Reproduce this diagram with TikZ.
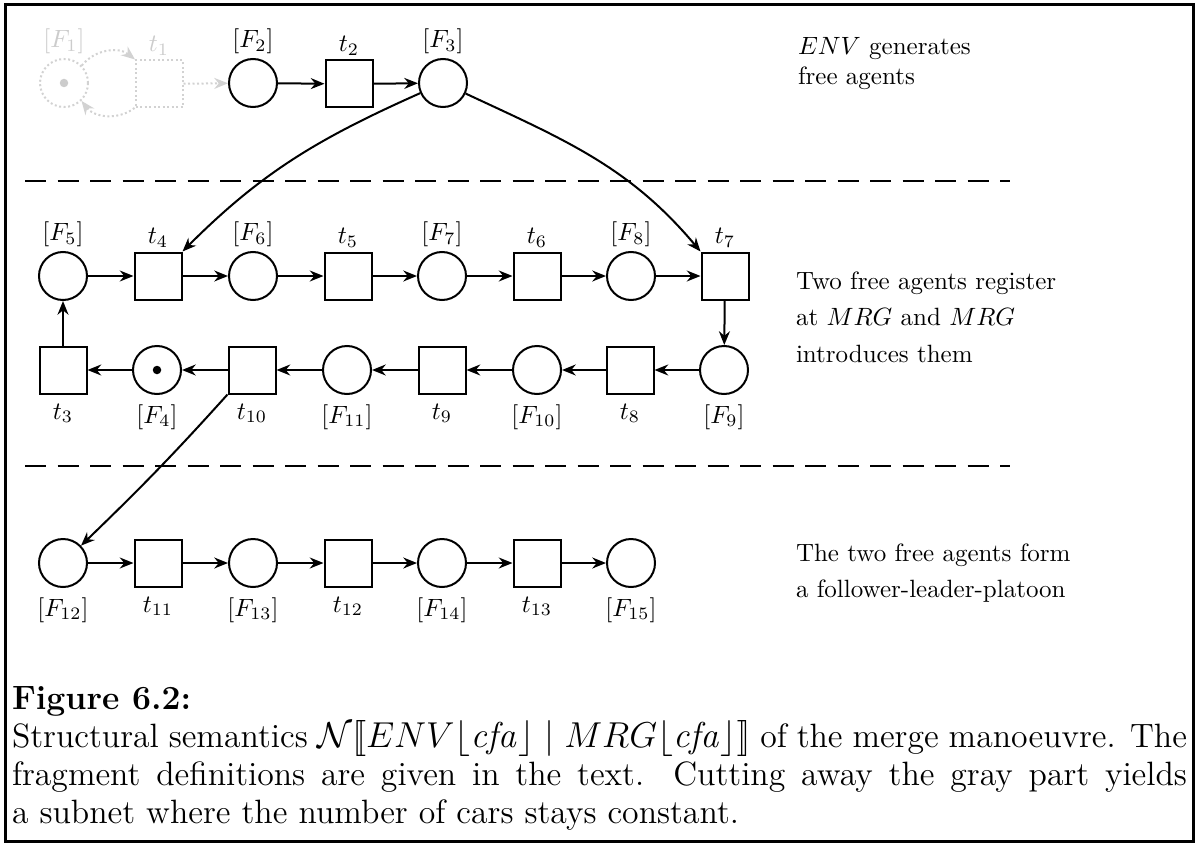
\documentclass[tikz,border=0pt]{standalone}
\usetikzlibrary{arrows.meta}
\begin{document}
\begin{tikzpicture}[x=0.4pt, y=0.4pt, >={Stealth[length=5.5pt, width=4.4pt, inset=1.8pt]}, thick,
    place/.style={circle, draw, minimum size=19.2pt, inner sep=0pt},
    trans/.style={rectangle, draw, minimum size=18.8pt, inner sep=0pt},
    above tag/.style={label={[label distance=-2pt]above:{#1}}},
    below tag/.style={label={below:{#1}}},
    faint/.style={draw=gray!35, densely dotted, text=gray!40},
    token/.style={circle, fill, inner sep=0pt, minimum size=3.4pt},
    sep/.style={dash pattern=on 8.5pt off 4.5pt},
    remark/.style={anchor=west, align=left, inner sep=0pt}]
    \useasboundingbox (0,0) rectangle (1198,-846);
    \draw[line width=1.2pt] (5,-5) rectangle (1193,-841);

    % ==== ENV: free agents ====
    \node[place, faint, label={[gray!40, label distance=-2pt]above:{$[F_1]$}}] (F1) at (64,-83) {};
    \node[token, gray!40] (tok1) at (F1) {};
    \node[trans, faint, label={[gray!40, label distance=-2pt]above:$t_1$}] (t1) at (159,-84) {};
    \node[place, above tag={$[F_2]$}] (F2) at (253,-83) {};
    \node[trans, above tag={$t_2$}] (t2) at (349,-84) {};
    \node[place, above tag={$[F_3]$}] (F3) at (443,-83) {};
    \draw[->, faint] (F1) to[bend left=45] (t1);
    \draw[->, faint] (t1) to[bend left=45] (F1);
    \draw[->, faint] (t1) -- (F2);
    \draw[->] (F2) -- (t2);
    \draw[->] (t2) -- (F3);

    \draw[sep] (25,-181) -- (1010,-181);

    % ==== MRG: register and introduce ====
    \node[place, above tag={$[F_5]$}] (F5) at (63,-276) {};
    \node[trans, above tag={$t_4$}] (t4) at (158,-276) {};
    \node[place, above tag={$[F_6]$}] (F6) at (253,-276) {};
    \node[trans, above tag={$t_5$}] (t5) at (348,-276) {};
    \node[place, above tag={$[F_7]$}] (F7) at (442,-276) {};
    \node[trans, above tag={$t_6$}] (t6) at (537,-276) {};
    \node[place, above tag={$[F_8]$}] (F8) at (631,-276) {};
    \node[trans, above tag={$t_7$}] (t7) at (725,-276) {};

    \node[trans, below tag={$t_3$}] (t3) at (63,-370) {};
    \node[place, below tag={$[F_4]$}] (F4) at (157,-370) {};
    \node[token] (tok4) at (F4) {};
    \node[trans, below tag={$t_{10}$}] (t10) at (252,-370) {};
    \node[place, below tag={$[F_{11}]$}] (F11) at (347,-370) {};
    \node[trans, below tag={$t_9$}] (t9) at (442,-370) {};
    \node[place, below tag={$[F_{10}]$}] (F10) at (537,-370) {};
    \node[trans, below tag={$t_8$}] (t8) at (630,-370) {};
    \node[place, below tag={$[F_9]$}] (F9) at (724,-370) {};

    \draw[->] (F5) -- (t4);  \draw[->] (t4) -- (F6);
    \draw[->] (F6) -- (t5);  \draw[->] (t5) -- (F7);
    \draw[->] (F7) -- (t6);  \draw[->] (t6) -- (F8);
    \draw[->] (F8) -- (t7);  \draw[->] (t7) -- (F9);
    \draw[->] (F9) -- (t8);  \draw[->] (t8) -- (F10);
    \draw[->] (F10) -- (t9); \draw[->] (t9) -- (F11);
    \draw[->] (F11) -- (t10); \draw[->] (t10) -- (F4);
    \draw[->] (F4) -- (t3);  \draw[->] (t3) -- (F5);
    % agents handed over from ENV
    \draw[->] (F3) to[out=204, in=45] (t4.north east);
    \draw[->] (F3) to[out=-25, in=130] (t7.north west);

    \draw[sep] (25,-466) -- (1010,-466);

    % ==== platoon ====
    \node[place, below tag={$[F_{12}]$}] (F12) at (63,-563) {};
    \node[trans, below tag={$t_{11}$}] (t11) at (158,-563) {};
    \node[place, below tag={$[F_{13}]$}] (F13) at (253,-563) {};
    \node[trans, below tag={$t_{12}$}] (t12) at (348,-563) {};
    \node[place, below tag={$[F_{14}]$}] (F14) at (442,-563) {};
    \node[trans, below tag={$t_{13}$}] (t13) at (537,-563) {};
    \node[place, below tag={$[F_{15}]$}] (F15) at (631,-563) {};
    \draw[->] (F12) -- (t11); \draw[->] (t11) -- (F13);
    \draw[->] (F13) -- (t12); \draw[->] (t12) -- (F14);
    \draw[->] (F14) -- (t13); \draw[->] (t13) -- (F15);
    \draw[->] (t10.south west) to[out=228, in=44] (F12);

    % ==== remarks ====
    \node[remark, font=\fontsize{10}{12}\selectfont] (envtxt) at (797,-64)
        {$ENV$\ generates\\ free agents};
    \node[remark, font=\fontsize{10}{14.6}\selectfont] (mrgtxt) at (795,-317)
        {Two free agents register\\ at $MRG$ and $MRG$\\ introduces them};
    \node[remark, font=\fontsize{10}{14.2}\selectfont] (plttxt) at (795,-573)
        {The two free agents form\\ a follower-leader-platoon};

    % ==== caption ====
    \node[anchor=north west, text width=470pt, align=justify, inner sep=0pt,
          font=\fontsize{13.5}{15.2}\selectfont] (caption) at (11,-686)
        {\textbf{Figure 6.2:}\\
         Structural semantics $\mathcal{N}[\![ENV\lfloor\mathit{cfa}\rfloor \mid MRG\lfloor\mathit{cfa}\rfloor]\!]$ of the merge manoeuvre. The\linebreak
         fragment definitions are given in the text. Cutting away the gray part yields\linebreak
         a subnet where the number of cars stays constant.};
\end{tikzpicture}
\end{document}
